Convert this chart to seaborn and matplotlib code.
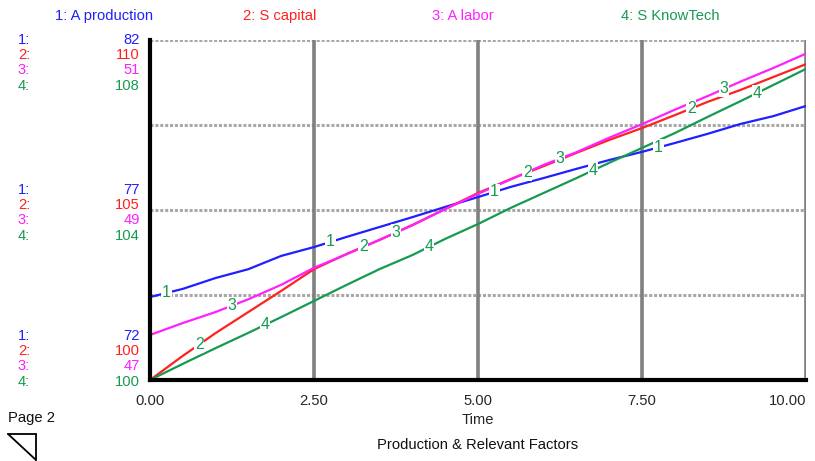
import numpy as np
import pandas as pd
import matplotlib
matplotlib.use("Agg")
import matplotlib.pyplot as plt
import seaborn as sns
from matplotlib.lines import Line2D

# ---------------- data ----------------
time = [0.0, 0.5, 1.0, 1.5, 2.0, 2.5, 3.0, 3.5, 4.0, 4.5, 5.0,
        5.5, 6.0, 6.5, 7.0, 7.5, 8.0, 8.5, 9.0, 9.5, 10.0]

a_production = [74.44, 74.68, 75.00, 75.26, 75.65, 75.91, 76.21, 76.50, 76.79, 77.09, 77.38,
                77.68, 77.94, 78.21, 78.47, 78.71, 78.97, 79.24, 79.53, 79.76, 80.06]
s_capital = [100.00, 100.71, 101.38, 102.00, 102.62, 103.26, 103.71, 104.12, 104.56, 105.03, 105.50,
             105.91, 106.29, 106.68, 107.06, 107.41, 107.79, 108.18, 108.53, 108.91, 109.29]
a_labor = [47.53, 47.67, 47.80, 47.95, 48.12, 48.32, 48.48, 48.65, 48.82, 49.01, 49.19,
           49.36, 49.53, 49.68, 49.85, 50.01, 50.18, 50.34, 50.51, 50.67, 50.84]
s_knowtech = [100.00, 100.38, 100.75, 101.11, 101.48, 101.86, 102.24, 102.61, 102.94, 103.32, 103.67,
              104.05, 104.40, 104.75, 105.11, 105.46, 105.81, 106.19, 106.56, 106.94, 107.32]

series_names = ["1: A production", "2: S capital", "3: A labor", "4: S KnowTech"]
series_values = [a_production, s_capital, a_labor, s_knowtech]
scale_low = [72, 100, 47, 100]
scale_mid = [77, 105, 49, 104]
scale_high = [82, 110, 51, 108]
x_ticks = [0.0, 2.5, 5.0, 7.5, 10.0]
x_tick_labels = ["0.00", "2.50", "5.00", "7.50", "10.00"]
label_start = [0.25, 0.75, 1.25, 1.75]   # first position of each curve's number label

colors = ["#1f1fff", "#ff2020", "#ff1fff", "#169a50"]

# ---------------- figure ----------------
sns.set_style("white")
plt.rcParams["font.family"] = ["Liberation Sans", "DejaVu Sans"]
FS = 10.6

W, H = 815, 461
fig = plt.figure(figsize=(W / 100, H / 100), dpi=100)
L, R, T, B = 150, 806, 40, 380
ax = fig.add_axes([L / W, 1 - B / H, (R - L) / W, (B - T) / H])

def fx(px):
    return px / W

def fy(py):
    return 1 - py / H

# grid lines (drawn first)
for yv in [0.25, 0.5, 0.75, 1.0]:
    ax.axhline(yv, color="#a8a8a8", lw=2.2, ls=(0, (1, 0.6)), zorder=1)
for xv in x_ticks[1:]:
    ax.axvline(xv, color="#808080", lw=2.6, zorder=1)

# series, each on its own scale (normalized to the panel)
frames = []
for name, vals, lo, hi in zip(series_names, series_values, scale_low, scale_high):
    v = np.asarray(vals, dtype=float)
    frames.append(pd.DataFrame({"Time": time, "norm": (v - lo) / (hi - lo), "series": name}))
df = pd.concat(frames, ignore_index=True)

sns.lineplot(data=df, x="Time", y="norm", hue="series", palette=colors,
             hue_order=series_names, lw=1.6, legend=False, ax=ax, zorder=3)

# curve number labels
for i, (vals, lo, hi) in enumerate(zip(series_values, scale_low, scale_high)):
    v = (np.asarray(vals) - lo) / (hi - lo)
    for k in range(4):
        tt = label_start[i] + 2.5 * k
        yy = np.interp(tt, time, v)
        ax.text(tt, yy, str(i + 1), color="#169a50", fontsize=11.5,
                ha="center", va="center", zorder=5,
                bbox=dict(facecolor="white", edgecolor="none", pad=0.6))

ax.set_xlim(0, 10)
ax.set_ylim(0, 1)
ax.set_xticks(x_ticks)
ax.set_xticklabels(x_tick_labels, fontsize=FS)
tl = ax.get_xticklabels()
tl[-1].set_ha("right")
ax.set_yticks([0, 0.25, 0.5, 0.75, 1.0])
ax.set_yticklabels([])
ax.tick_params(axis="both", direction="out", length=7, width=2.5, color="black", pad=3)
ax.set_xlabel("Time", fontsize=FS, labelpad=4)
ax.set_ylabel("")
for s in ["top", "right"]:
    ax.spines[s].set_visible(False)
for s in ["left", "bottom"]:
    ax.spines[s].set_color("black")
    ax.spines[s].set_linewidth(3)
    ax.spines[s].set_zorder(6)

# top legend
leg_x = [55, 243, 432, 621]
for name, c, x in zip(series_names, colors, leg_x):
    fig.text(fx(x), fy(16), name, color=c, fontsize=FS, ha="left", va="center")

# left scale labels
groups = [(scale_high, 40), (scale_mid, 190), (scale_low, 336)]
for vals, y0 in groups:
    for i, (v, c) in enumerate(zip(vals, colors)):
        yy = y0 + i * 15.2
        fig.text(fx(18), fy(yy), f"{i + 1}:", color=c, fontsize=FS, ha="left", va="center")
        fig.text(fx(140), fy(yy), str(v), color=c, fontsize=FS, ha="right", va="center")

# footer
fig.text(fx(8), fy(418), "Page 2", fontsize=FS, ha="left", va="center", color="#111111")
fig.text(fx(478), fy(445), "Production & Relevant Factors", fontsize=FS, ha="center", va="center",
         color="#111111")
fig.add_artist(Line2D([fx(8), fx(36)], [fy(434), fy(434)], color="black", lw=1.3))
fig.add_artist(Line2D([fx(36), fx(36)], [fy(434), fy(460)], color="black", lw=1.3))
fig.add_artist(Line2D([fx(8), fx(36)], [fy(434), fy(460)], color="black", lw=1.3))

fig.savefig("out.png", dpi=100)
